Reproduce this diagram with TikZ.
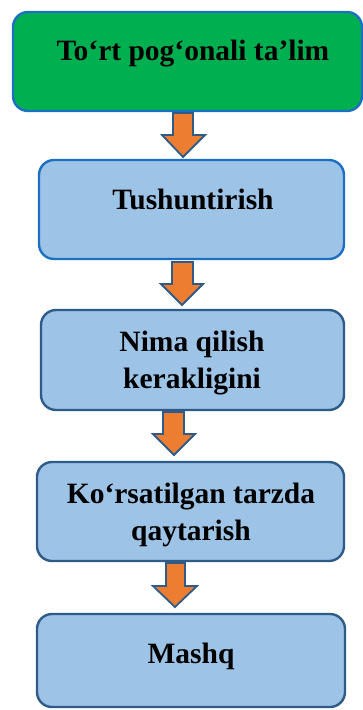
\documentclass[tikz,border=0pt]{standalone}
\usepackage{fontspec}
\setmainfont{Liberation Serif}
\definecolor{gfill}{HTML}{00B050}
\definecolor{bfill}{HTML}{9DC3E6}
\definecolor{bborder}{HTML}{1C6FC2}
\definecolor{dborder}{HTML}{2E5B88}
\definecolor{ofill}{HTML}{ED7D31}
\begin{document}
\begin{tikzpicture}[x=1pt,y=-1pt,
  box/.style={rounded corners=15pt,line width=2.4pt,fill=bfill,draw=dborder},
  blockarrow/.style={fill=ofill,draw=dborder,line width=1.8pt,line join=miter},
  txt/.style={font=\bfseries\fontsize{29.5}{37}\selectfont,align=center,inner sep=0pt}]
\useasboundingbox (0,0) rectangle (363,710);
% boxes
\draw[box,fill=gfill,draw=bborder] (13,12) rectangle (362,111);
\draw[box,draw=bborder] (39,160) rectangle (344,259);
\draw[box] (41,310) rectangle (344,410);
\draw[box] (37,462) rectangle (344,561);
\draw[box] (37,614) rectangle (345,707);
% texts
\node[txt,anchor=base] (t1) at (193,60) {To‘rt pog‘onali ta’lim};
\node[txt,anchor=base] (t2) at (193,209) {Tushuntirish};
\node[txt,anchor=base] (t3) at (192,388) {Nima qilish\\kerakligini};
\node[txt,anchor=base] (t4) at (191,540) {Ko‘rsatilgan tarzda\\qaytarish};
\node[txt,anchor=base] (t5) at (191,663) {Mashq};
% arrows
\draw[blockarrow] (173,113) -- (193,113) -- (193,135) -- (205,135) -- (183,157) -- (162,135) -- (173,135) -- cycle;
\draw[blockarrow] (172,262) -- (193,262) -- (193,284) -- (203,284) -- (182,305) -- (161,284) -- (172,284) -- cycle;
\draw[blockarrow] (163,412) -- (184,412) -- (184,434) -- (195,434) -- (174,455) -- (153,434) -- (163,434) -- cycle;
\draw[blockarrow] (166,563) -- (185,563) -- (185,586) -- (197,586) -- (175,607) -- (153,586) -- (166,586) -- cycle;
\end{tikzpicture}
\end{document}
